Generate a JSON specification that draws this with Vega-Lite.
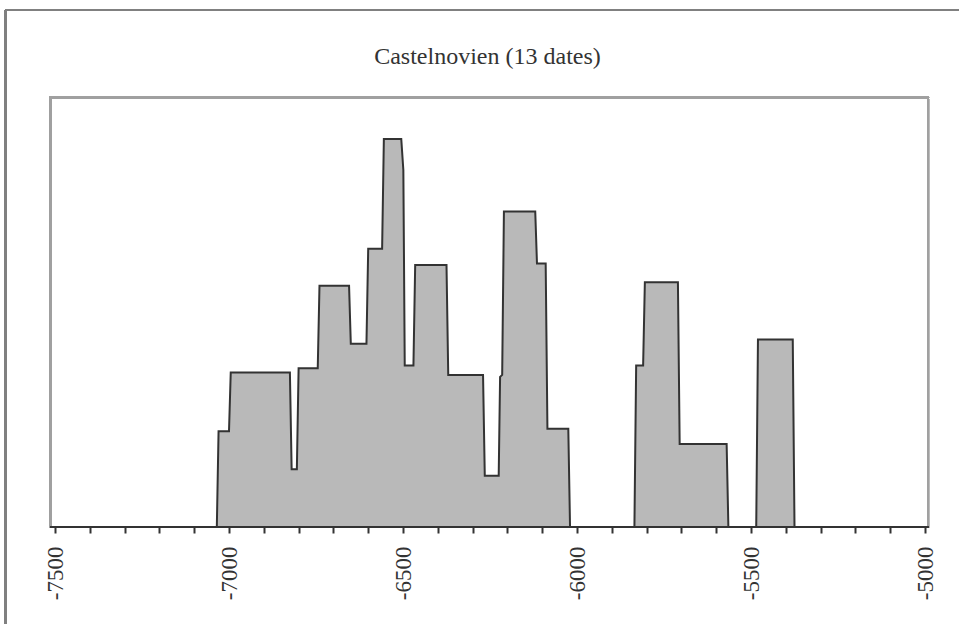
{
  "$schema": "https://vega.github.io/schema/vega-lite/v6.json",
  "width": 959,
  "height": 624,
  "autosize": "none",
  "padding": 0,
  "background": "white",
  "config": {"view": {"stroke": null}},
  "title": {
    "text": "Castelnovien (13 dates)",
    "font": "Liberation Serif, Times New Roman, serif",
    "fontSize": 24,
    "fontWeight": "normal",
    "color": "#333333",
    "anchor": "middle",
    "frame": "group",
    "baseline": "alphabetic",
    "offset": -88,
    "dx": 8
  },
  "data": {
    "values": [
      {"year": -7513, "p": 0},
      {"year": -7035, "p": 0},
      {"year": -7030, "p": 0.247},
      {"year": -7000, "p": 0.247},
      {"year": -6995, "p": 0.398},
      {"year": -6825, "p": 0.398},
      {"year": -6820, "p": 0.149},
      {"year": -6805, "p": 0.149},
      {"year": -6800, "p": 0.409},
      {"year": -6745, "p": 0.409},
      {"year": -6740, "p": 0.622},
      {"year": -6655, "p": 0.622},
      {"year": -6650, "p": 0.472},
      {"year": -6605, "p": 0.472},
      {"year": -6600, "p": 0.717},
      {"year": -6560, "p": 0.717},
      {"year": -6555, "p": 1.0},
      {"year": -6505, "p": 1.0},
      {"year": -6499, "p": 0.92},
      {"year": -6495, "p": 0.416},
      {"year": -6470, "p": 0.416},
      {"year": -6465, "p": 0.675},
      {"year": -6375, "p": 0.675},
      {"year": -6370, "p": 0.392},
      {"year": -6270, "p": 0.392},
      {"year": -6265, "p": 0.132},
      {"year": -6225, "p": 0.132},
      {"year": -6221, "p": 0.387},
      {"year": -6215, "p": 0.392},
      {"year": -6210, "p": 0.813},
      {"year": -6120, "p": 0.813},
      {"year": -6115, "p": 0.679},
      {"year": -6090, "p": 0.679},
      {"year": -6085, "p": 0.253},
      {"year": -6025, "p": 0.253},
      {"year": -6020, "p": 0},
      {"year": -5835, "p": 0},
      {"year": -5830, "p": 0.416},
      {"year": -5810, "p": 0.416},
      {"year": -5805, "p": 0.631},
      {"year": -5710, "p": 0.631},
      {"year": -5705, "p": 0.214},
      {"year": -5570, "p": 0.214},
      {"year": -5565, "p": 0},
      {"year": -5485, "p": 0},
      {"year": -5480, "p": 0.483},
      {"year": -5380, "p": 0.483},
      {"year": -5375, "p": 0},
      {"year": -4991.3, "p": 0}
    ]
  },
  "encoding": {
    "x": {
      "field": "year",
      "type": "quantitative",
      "scale": {"domain": [-7658.05, -4902.3], "nice": false, "zero": false},
      "axis": {
        "values": [-7500, -7400, -7300, -7200, -7100, -7000, -6900, -6800, -6700, -6600, -6500, -6400, -6300, -6200, -6100, -6000, -5900, -5800, -5700, -5600, -5500, -5400, -5300, -5200, -5100, -5000],
        "offset": -97,
        "domain": false,
        "grid": false,
        "ticks": true,
        "tickSize": 6,
        "tickWidth": 2,
        "tickColor": "#333333",
        "labelAngle": -90,
        "labelExpr": "datum.value % 500 === 0 ? '' + datum.value : ''",
        "labelFont": "Liberation Serif, Times New Roman, serif",
        "labelFontSize": 23,
        "labelColor": "#333333",
        "labelPadding": 13,
        "labelOverlap": false,
        "labelFlush": false,
        "labelBound": false,
        "title": null
      }
    },
    "y": {
      "field": "p",
      "type": "quantitative",
      "scale": {"domain": [-0.25, 1.3582], "nice": false, "zero": false},
      "axis": null
    }
  },
  "layer": [
    {
      "mark": {"type": "rect", "fill": null, "fillOpacity": 0, "stroke": "#a0a0a0", "strokeWidth": 2},
      "encoding": {
        "x": {"datum": -7512.9, "type": "quantitative"},
        "x2": {"datum": -4991.3},
        "y": {"datum": 0, "type": "quantitative"},
        "y2": {"datum": 1.107}
      }
    },
    {
      "mark": {"type": "rule", "stroke": "#808080", "strokeWidth": 2},
      "encoding": {
        "x": {"datum": -7642.2, "type": "quantitative"},
        "y": {"datum": 1.3325, "type": "quantitative"},
        "y2": {"datum": -0.25}
      }
    },
    {
      "mark": {"type": "rule", "stroke": "#808080", "strokeWidth": 2},
      "encoding": {
        "x": {"datum": -7642.2, "type": "quantitative"},
        "x2": {"datum": -4902.3},
        "y": {"datum": 1.3325, "type": "quantitative"}
      }
    },
    {
      "mark": {"type": "area", "color": "#b9b9b9", "opacity": 1, "fillOpacity": 1, "line": {"color": "#333333", "strokeWidth": 2}}
    },
    {
      "mark": {"type": "rule", "stroke": "#333333", "strokeWidth": 2},
      "encoding": {
        "x": {"datum": -7512.9, "type": "quantitative"},
        "x2": {"datum": -4991.3},
        "y": {"datum": 0, "type": "quantitative"}
      }
    }
  ]
}
